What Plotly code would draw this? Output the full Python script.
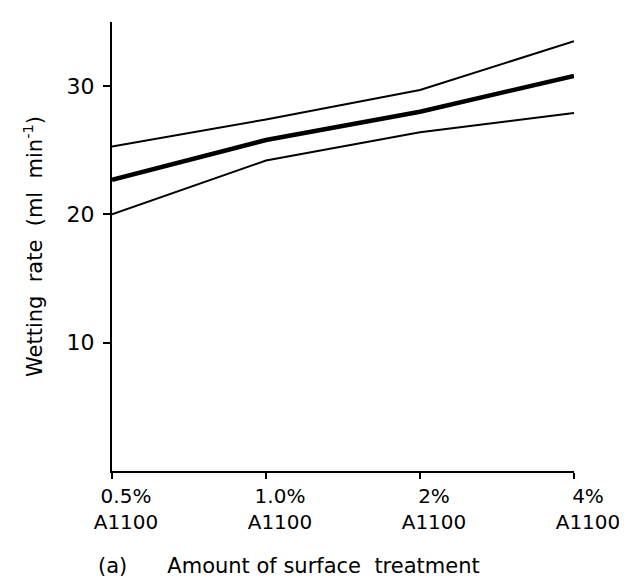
import plotly.graph_objects as go

categories = ["0.5%<br>A1100", "1.0%<br>A1100", "2%<br>A1100", "4%<br>A1100"]
upper = [25.3, 27.4, 29.7, 33.5]
mean = [22.7, 25.8, 28.0, 30.8]
lower = [20.0, 24.2, 26.4, 27.9]
y_ticks = [10, 20, 30]

FONT = "DejaVu Sans"

fig = go.Figure()
fig.add_trace(go.Scatter(x=categories, y=upper, mode="lines",
                         line=dict(color="black", width=2), showlegend=False))
fig.add_trace(go.Scatter(x=categories, y=mean, mode="lines",
                         line=dict(color="black", width=4.5), showlegend=False))
fig.add_trace(go.Scatter(x=categories, y=lower, mode="lines",
                         line=dict(color="black", width=2), showlegend=False))

fig.update_layout(
    width=627, height=586,
    margin=dict(l=104, r=61, t=14, b=123),
    plot_bgcolor="white", paper_bgcolor="white",
    font=dict(family=FONT, size=20, color="black"),
    xaxis=dict(
        type="category", range=[0, 3],
        showline=True, linecolor="black", linewidth=2,
        ticks="outside", ticklen=6, tickwidth=2, tickcolor="black",
        showgrid=False, zeroline=False,
        tickfont=dict(family=FONT, size=20),
        ticklabelshift=14, ticklabelstandoff=0,
    ),
    yaxis=dict(
        range=[0, 35],
        showline=True, linecolor="black", linewidth=2,
        ticks="outside", ticklen=7, tickwidth=2, tickcolor="black",
        tickvals=y_ticks, ticktext=[str(v) for v in y_ticks],
        showgrid=False, zeroline=False,
        tickfont=dict(family=FONT, size=22),
        ticklabelstandoff=4,
        title=dict(text="Wetting  rate  (ml  min<sup>-1</sup>)",
                   font=dict(family=FONT, size=21), standoff=18),
    ),
    annotations=[
        dict(text="(a)      Amount of surface  treatment",
             xref="paper", yref="paper", x=-0.035, y=-0.212,
             xanchor="left", yanchor="middle", showarrow=False,
             font=dict(family=FONT, size=21)),
    ],
)

fig.write_html("out.html")
